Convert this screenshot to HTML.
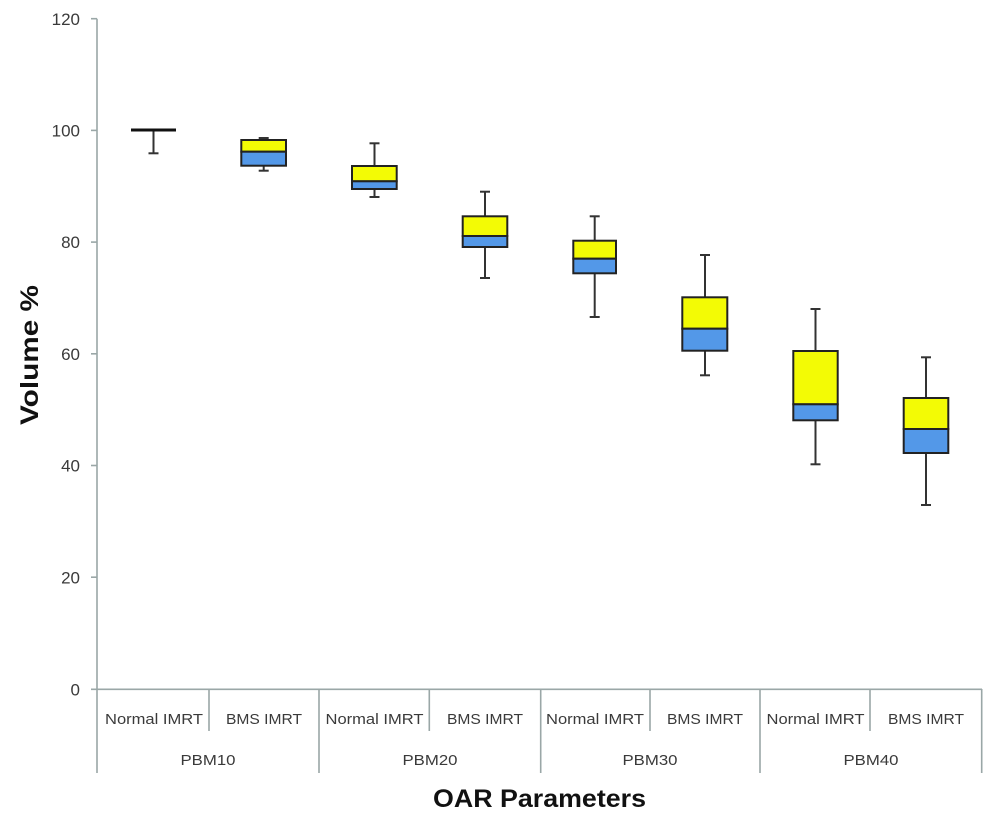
<!DOCTYPE html>
<html><head><meta charset="utf-8"><style>
html,body{margin:0;padding:0;background:#fff;}
svg{display:block;}
</style></head><body>
<svg width="1000" height="817" viewBox="0 0 1000 817" xmlns="http://www.w3.org/2000/svg">
<rect width="1000" height="817" fill="#fff"/>
<!-- axes -->
<g stroke="#9aa7a7" stroke-width="1.6" fill="none">
<line x1="97" y1="18.7" x2="97" y2="690"/>
<line x1="91" y1="689.3" x2="982" y2="689.3"/>
<line x1="91" y1="18.7" x2="97" y2="18.7"/>
<line x1="91" y1="130.4" x2="97" y2="130.4"/>
<line x1="91" y1="242.1" x2="97" y2="242.1"/>
<line x1="91" y1="353.8" x2="97" y2="353.8"/>
<line x1="91" y1="465.5" x2="97" y2="465.5"/>
<line x1="91" y1="577.2" x2="97" y2="577.2"/>
<line x1="97" y1="689" x2="97" y2="773"/>
<line x1="319" y1="689" x2="319" y2="773"/>
<line x1="540.7" y1="689" x2="540.7" y2="773"/>
<line x1="760" y1="689" x2="760" y2="773"/>
<line x1="981.7" y1="689" x2="981.7" y2="773"/>
<line x1="209" y1="689" x2="209" y2="731"/>
<line x1="429.3" y1="689" x2="429.3" y2="731"/>
<line x1="650" y1="689" x2="650" y2="731"/>
<line x1="870" y1="689" x2="870" y2="731"/>
</g>
<!-- tick labels -->
<g font-family="Liberation Sans, sans-serif" font-size="17" fill="#3a3a3a" text-anchor="end">
<text x="80" y="24.8">120</text>
<text x="80" y="136.5">100</text>
<text x="80" y="248.2">80</text>
<text x="80" y="359.9">60</text>
<text x="80" y="471.6">40</text>
<text x="80" y="583.3">20</text>
<text x="80" y="695.3">0</text>
</g>
<!-- category labels -->
<g font-family="Liberation Sans, sans-serif" font-size="15" fill="#3a3a3a" text-anchor="middle">
<text x="154" y="724" textLength="98" lengthAdjust="spacingAndGlyphs">Normal IMRT</text>
<text x="264" y="724" textLength="76" lengthAdjust="spacingAndGlyphs">BMS IMRT</text>
<text x="374.5" y="724" textLength="98" lengthAdjust="spacingAndGlyphs">Normal IMRT</text>
<text x="485" y="724" textLength="76" lengthAdjust="spacingAndGlyphs">BMS IMRT</text>
<text x="595" y="724" textLength="98" lengthAdjust="spacingAndGlyphs">Normal IMRT</text>
<text x="705" y="724" textLength="76" lengthAdjust="spacingAndGlyphs">BMS IMRT</text>
<text x="815.5" y="724" textLength="98" lengthAdjust="spacingAndGlyphs">Normal IMRT</text>
<text x="926" y="724" textLength="76" lengthAdjust="spacingAndGlyphs">BMS IMRT</text>
<text x="208" y="765" textLength="55" lengthAdjust="spacingAndGlyphs">PBM10</text>
<text x="430" y="765" textLength="55" lengthAdjust="spacingAndGlyphs">PBM20</text>
<text x="650" y="765" textLength="55" lengthAdjust="spacingAndGlyphs">PBM30</text>
<text x="871" y="765" textLength="55" lengthAdjust="spacingAndGlyphs">PBM40</text>
</g>
<!-- axis titles -->
<text x="539.5" y="807" font-family="Liberation Sans, sans-serif" font-size="25" font-weight="bold" fill="#111" text-anchor="middle" textLength="213" lengthAdjust="spacingAndGlyphs">OAR  Parameters</text>
<text transform="translate(38,355) rotate(-90)" x="0" y="0" font-family="Liberation Sans, sans-serif" font-size="25" font-weight="bold" fill="#111" text-anchor="middle" textLength="140" lengthAdjust="spacingAndGlyphs">Volume %</text>
<!-- whiskers -->
<g stroke="#333" stroke-width="2" fill="none">
<line x1="153.5" y1="130" x2="153.5" y2="153.3"/><line x1="148.5" y1="153.3" x2="158.5" y2="153.3"/>
<line x1="263.7" y1="138" x2="263.7" y2="170.7"/><line x1="258.7" y1="138" x2="268.7" y2="138"/><line x1="258.7" y1="170.7" x2="268.7" y2="170.7"/>
<line x1="374.5" y1="143.3" x2="374.5" y2="197"/><line x1="369.5" y1="143.3" x2="379.5" y2="143.3"/><line x1="369.5" y1="197" x2="379.5" y2="197"/>
<line x1="485" y1="191.7" x2="485" y2="278"/><line x1="480" y1="191.7" x2="490" y2="191.7"/><line x1="480" y1="278" x2="490" y2="278"/>
<line x1="594.7" y1="216.3" x2="594.7" y2="317"/><line x1="589.7" y1="216.3" x2="599.7" y2="216.3"/><line x1="589.7" y1="317" x2="599.7" y2="317"/>
<line x1="705" y1="255" x2="705" y2="375.3"/><line x1="700" y1="255" x2="710" y2="255"/><line x1="700" y1="375.3" x2="710" y2="375.3"/>
<line x1="815.5" y1="309" x2="815.5" y2="464.3"/><line x1="810.5" y1="309" x2="820.5" y2="309"/><line x1="810.5" y1="464.3" x2="820.5" y2="464.3"/>
<line x1="926" y1="357.3" x2="926" y2="505"/><line x1="921" y1="357.3" x2="931" y2="357.3"/><line x1="921" y1="505" x2="931" y2="505"/>
</g>
<!-- box 1 flat line -->
<line x1="131" y1="130" x2="176" y2="130" stroke="#111" stroke-width="3"/>
<!-- boxes -->
<g stroke="#222" stroke-width="2">
<rect x="241.3" y="140" width="44.7" height="11.7" fill="#f3fb05"/>
<rect x="241.3" y="151.7" width="44.7" height="14" fill="#5398e8"/>
<rect x="352" y="166" width="44.7" height="15.3" fill="#f3fb05"/>
<rect x="352" y="181.3" width="44.7" height="7.7" fill="#5398e8"/>
<rect x="462.7" y="216.3" width="44.6" height="19.7" fill="#f3fb05"/>
<rect x="462.7" y="236" width="44.6" height="11" fill="#5398e8"/>
<rect x="573.3" y="240.7" width="42.7" height="18" fill="#f3fb05"/>
<rect x="573.3" y="258.7" width="42.7" height="14.6" fill="#5398e8"/>
<rect x="682.3" y="297.3" width="45" height="31.4" fill="#f3fb05"/>
<rect x="682.3" y="328.7" width="45" height="22" fill="#5398e8"/>
<rect x="793.3" y="351" width="44.4" height="53.3" fill="#f3fb05"/>
<rect x="793.3" y="404.3" width="44.4" height="16" fill="#5398e8"/>
<rect x="903.7" y="398" width="44.6" height="31" fill="#f3fb05"/>
<rect x="903.7" y="429" width="44.6" height="24" fill="#5398e8"/>
</g>
</svg>
</body></html>
